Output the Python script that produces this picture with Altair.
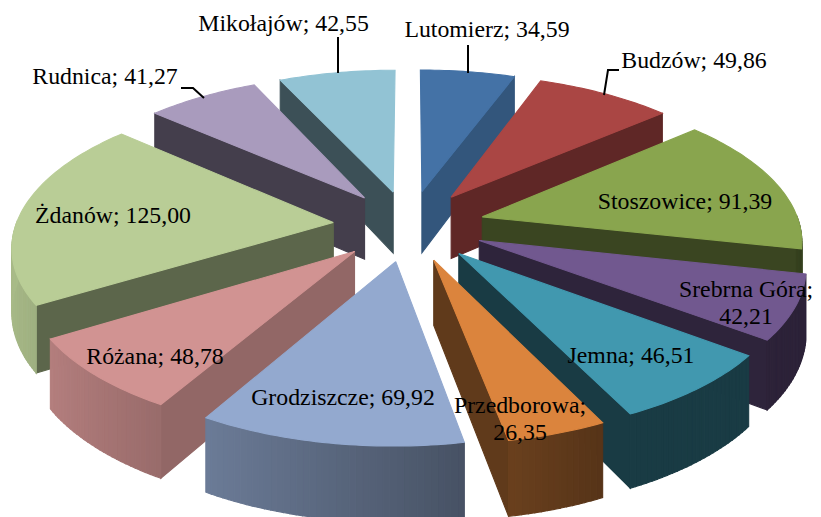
import math
import altair as alt
import pandas as pd

names = ["Lutomierz", "Budzów", "Stoszowice", "Srebrna Góra", "Jemna", "Przedborowa",
         "Grodziszcze", "Różana", "Żdanów", "Rudnica", "Mikołajów"]
values = [34.59, 49.86, 91.39, 42.21, 46.51, 26.35, 69.92, 48.78, 125.00, 41.27, 42.55]
top_colors = ["#4472A6", "#AA4644", "#89A54E", "#71588F", "#4198AF", "#DB843D",
              "#93A9CF", "#D19392", "#B9CD96", "#A99BBD", "#92C3D4"]
wall_shade = [0.75, 0.56, 0.42, 0.41, 0.39, 0.44, 0.6, 0.7, 0.5, 0.4, 0.41]
label_text = ["Lutomierz; 34,59", "Budzów; 49,86", "Stoszowice; 91,39", "Srebrna Góra;\n42,21",
              "Jemna; 46,51", "Przedborowa;\n26,35", "Grodziszcze; 69,92", "Różana; 48,78",
              "Żdanów; 125,00", "Rudnica; 41,27", "Mikołajów; 42,55"]
label_x = [487, 694, 685, 746, 631, 520, 343, 155, 113, 105, 283.5]
label_y = [30, 61, 202, 289.5, 356, 406, 398, 357, 216, 77, 24]
leader_id = [0, 0, 1, 1, 2, 2, 2, 3, 3, 3]
leader_x = [338, 338, 468, 468, 619, 608, 604, 181, 193, 204]
leader_y = [37, 73, 45, 73, 70, 70, 95, 88, 88, 98]

# view of the exploded pie
CX, CY, AX, BY, PERSP, DEPTH, EXPLODE = 409, 225.5, 317.5, 147.5, 0.14, 63, 0.24


def shade(color, f):
    r, g, b = (int(color[i:i + 2], 16) for i in (1, 3, 5))
    return "#%02x%02x%02x" % (round(r * f), round(g * f), round(b * f))


def project(u, v, z=0.0):
    s = 1 / (1 - PERSP * v)
    return CX + AX * u * s, CY + (BY * v + DEPTH * z) * s


total = sum(values)
slices = []
acc = 0.0
for i, val in enumerate(values):
    a1 = acc / total * 2 * math.pi
    acc += val
    a2 = acc / total * 2 * math.pi
    slices.append((i, a1, a2, (a1 + a2) / 2))
slices.sort(key=lambda t: -math.cos(t[3]))

rows = []
pid = 0


def add_poly(points, color):
    global pid
    pts = list(points) + [points[0]]
    for k, (x, y) in enumerate(pts):
        rows.append({"x": x, "y": y, "poly": pid, "seq": k, "c": color})
    pid += 1


for i, a1, a2, mid in slices:
    ou, ov = EXPLODE * math.sin(mid), -EXPLODE * math.cos(mid)
    n = max(2, int((a2 - a1) / math.radians(1)))
    arc = [a1 + (a2 - a1) * k / n for k in range(n + 1)]
    rim = [(ou + math.sin(t), ov - math.cos(t)) for t in arc]
    col = top_colors[i]
    if math.sin(a1) < 0:
        u, v = rim[0]
        add_poly([project(ou, ov), project(u, v), project(u, v, 1), project(ou, ov, 1)],
                 shade(col, wall_shade[i]))
    if math.sin(a2) > 0:
        u, v = rim[-1]
        add_poly([project(ou, ov), project(u, v), project(u, v, 1), project(ou, ov, 1)],
                 shade(col, wall_shade[i]))
    for k in range(n):
        tm = (arc[k] + arc[k + 1]) / 2
        if -math.cos(tm) > -0.02:
            f = max(0.39, 0.55 - 0.36 * math.sin(tm))
            (u0, v0), (u1, v1) = rim[k], rim[k + 1]
            add_poly([project(u0, v0), project(u1, v1), project(u1, v1, 1), project(u0, v0, 1)],
                     shade(col, f))
    add_poly([project(ou, ov)] + [project(u, v) for u, v in rim], col)

df = pd.DataFrame(rows)
labels = pd.DataFrame({"x": label_x, "y": label_y, "t": label_text})
leaders = pd.DataFrame({"x": leader_x, "y": leader_y, "id": leader_id,
                        "seq": list(range(len(leader_x)))})

xs = alt.Scale(domain=[8, 813], nice=False, zero=False)
ys = alt.Scale(domain=[517, 8], nice=False, zero=False)

faces = alt.Chart(df).mark_line(strokeWidth=1.1, interpolate="linear").encode(
    x=alt.X("x:Q", scale=xs, axis=None),
    y=alt.Y("y:Q", scale=ys, axis=None),
    order=alt.Order("seq:Q"),
    detail="poly:N",
    fill=alt.Fill("c:N", scale=None, legend=None),
    stroke=alt.Stroke("c:N", scale=None, legend=None),
)
lead = alt.Chart(leaders).mark_line(color="#000000", strokeWidth=2).encode(
    x=alt.X("x:Q", scale=xs, axis=None),
    y=alt.Y("y:Q", scale=ys, axis=None),
    order=alt.Order("seq:Q"),
    detail="id:N",
)
text = alt.Chart(labels).mark_text(font="Liberation Serif", fontSize=23.8, color="#000000",
                                   lineBreak="\n", lineHeight=27, align="center",
                                   baseline="middle").encode(
    x=alt.X("x:Q", scale=xs, axis=None),
    y=alt.Y("y:Q", scale=ys, axis=None),
    text="t:N",
)

chart = (faces + lead + text).properties(
    width=805, height=509, padding=0, background="#ffffff",
    autosize=alt.AutoSizeParams(type="none"),
).configure_view(stroke=None)

chart.save("out.html", embed_options={"renderer": "svg", "actions": False})
